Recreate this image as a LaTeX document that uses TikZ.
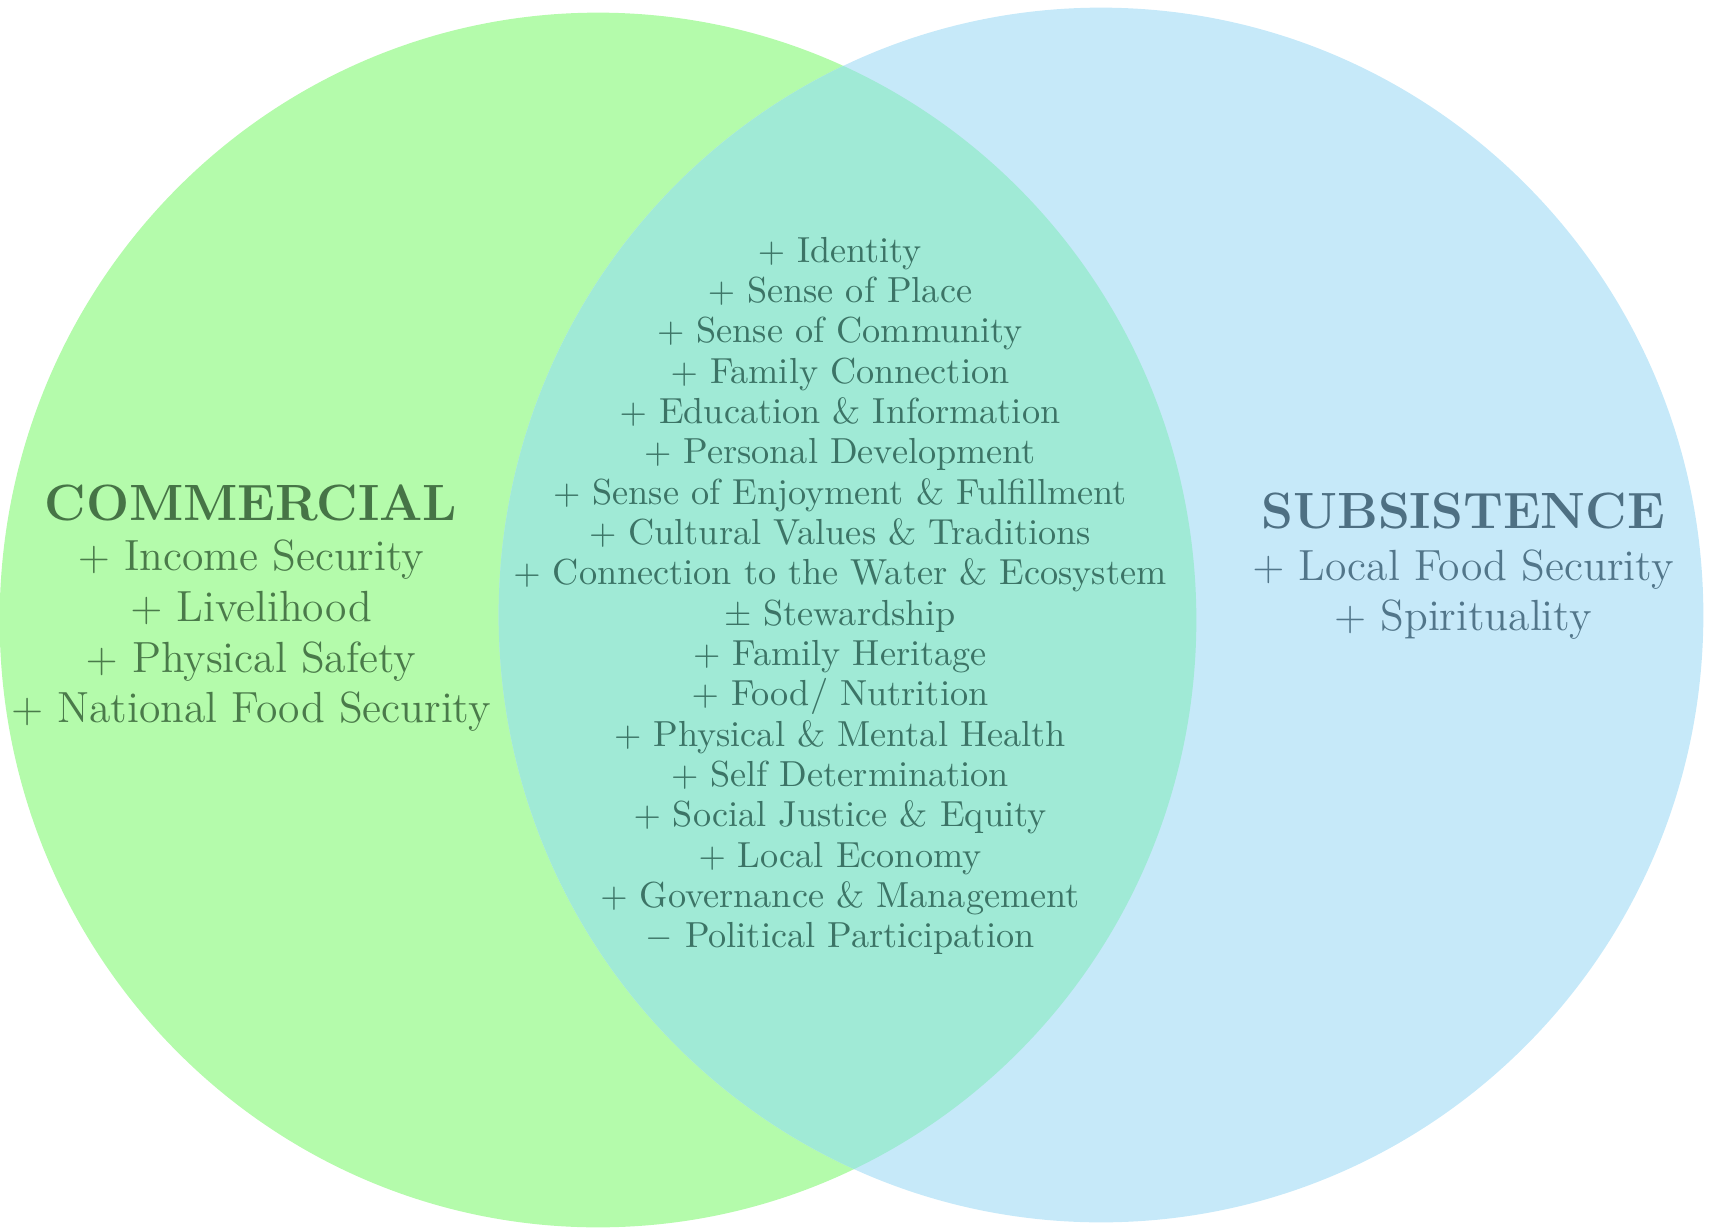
\documentclass[tikz,border=0pt]{standalone}
\usepackage{amsmath}
\definecolor{greenfill}{HTML}{B4FBAB}
\definecolor{bluefill}{HTML}{C6E9F9}
\definecolor{bothfill}{HTML}{A0EAD6}
\definecolor{greentext}{HTML}{4A7A4A}
\definecolor{midtext}{HTML}{3C7466}
\definecolor{bluetext}{HTML}{52768A}
\begin{document}
\begin{tikzpicture}[x=0.01cm, y=-0.01cm,
  label/.style={inner sep=0pt, anchor=base},
  headline/.style={label, font=\fontsize{14.5}{17}\selectfont\bfseries},
  sideline/.style={label, font=\fontsize{12.4}{15}\selectfont},
  midline/.style={label, font=\fontsize{10.3}{12}\selectfont, text=midtext}]
\useasboundingbox (0,0) rectangle (1709,1230);
% the two sets and their overlap
\fill[greenfill] (598,620) ellipse [x radius=5.98cm, y radius=6.07cm];
\fill[bluefill] (1101,615) ellipse [x radius=6.02cm, y radius=6.07cm];
\begin{scope}
  \clip (598,620) ellipse [x radius=5.98cm, y radius=6.07cm];
  \fill[bothfill] (1101,615) ellipse [x radius=6.02cm, y radius=6.07cm];
\end{scope}
% commercial set
\node[headline, text=greentext!95!black] (comm) at (251,520) {COMMERCIAL};
\node[sideline, text=greentext] (comm1) at (251,570) {$+$ Income Security};
\node[sideline, text=greentext] (comm2) at (251,621) {$+$ Livelihood};
\node[sideline, text=greentext] (comm3) at (251,672) {$+$ Physical Safety};
\node[sideline, text=greentext] (comm4) at (251,722) {$+$ National Food Security};
% subsistence set
\node[headline, text=bluetext!95!black] (subs) at (1463,528) {SUBSISTENCE};
\node[sideline, text=bluetext] (subs1) at (1463,580) {$+$ Local Food Security};
\node[sideline, text=bluetext] (subs2) at (1463,630) {$+$ Spirituality};
% shared values
\foreach \txt [count=\i from 0] in {
  {$+$ Identity},
  {$+$ Sense of Place},
  {$+$ Sense of Community},
  {$+$ Family Connection},
  {$+$ Education \& Information},
  {$+$ Personal Development},
  {$+$ Sense of Enjoyment \& Fulfillment},
  {$+$ Cultural Values \& Traditions},
  {$+$ Connection to the Water \& Ecosystem},
  {$\pm$ Stewardship},
  {$+$ Family Heritage},
  {$+$ Food/ Nutrition},
  {$+$ Physical \& Mental Health},
  {$+$ Self Determination},
  {$+$ Social Justice \& Equity},
  {$+$ Local Economy},
  {$+$ Governance \& Management},
  {$-$ Political Participation}}
  \node[midline] (both\i) at (840,262+40.35*\i) {\txt};
\end{tikzpicture}
\end{document}
